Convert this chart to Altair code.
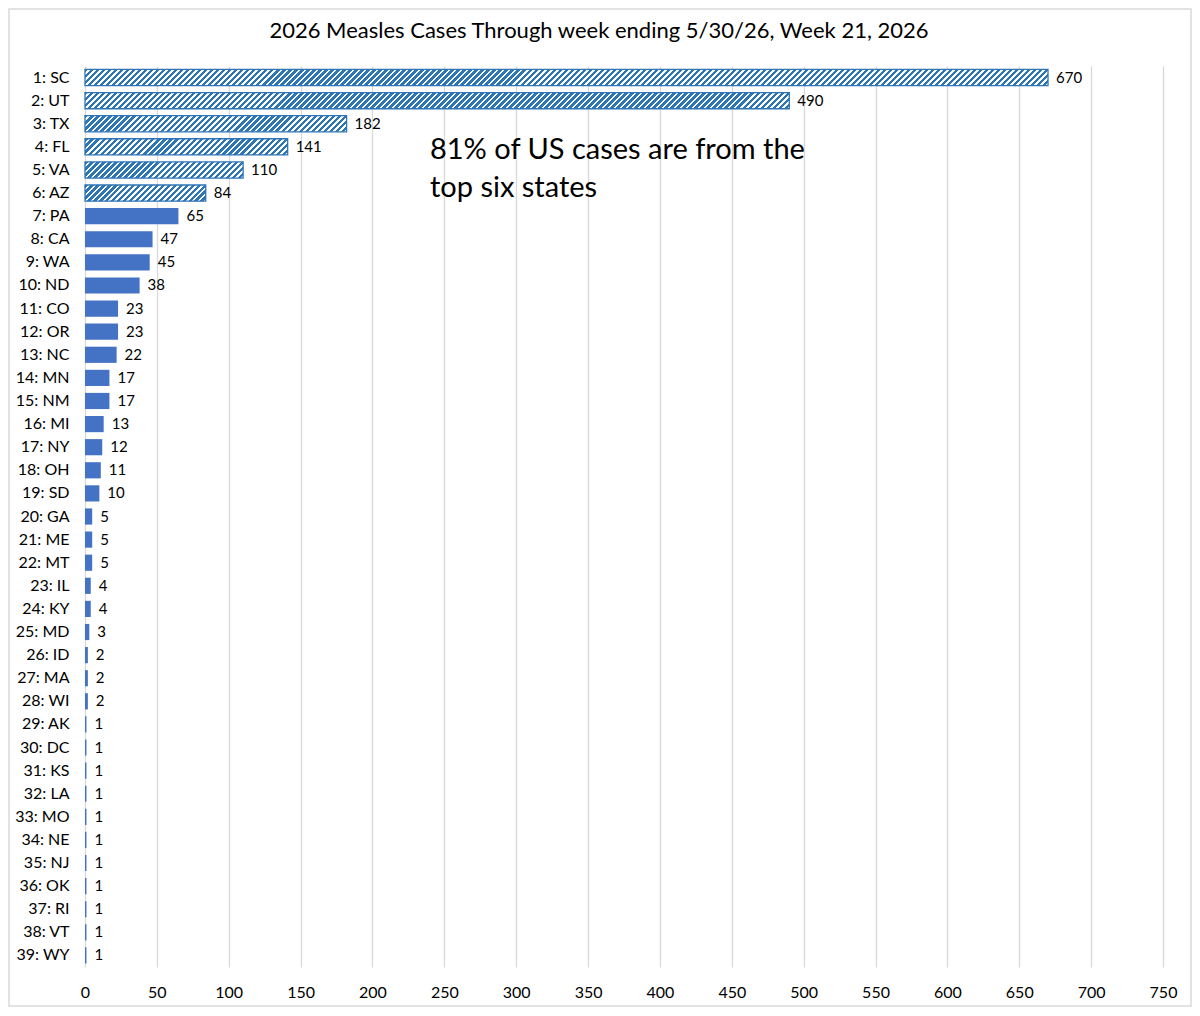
import altair as alt
import pandas as pd

# cases by state, already ranked
states = ["SC", "UT", "TX", "FL", "VA", "AZ", "PA", "CA", "WA", "ND",
          "CO", "OR", "NC", "MN", "NM", "MI", "NY", "OH", "SD", "GA",
          "ME", "MT", "IL", "KY", "MD", "ID", "MA", "WI", "AK", "DC",
          "KS", "LA", "MO", "NE", "NJ", "OK", "RI", "VT", "WY"]
cases = [670, 490, 182, 141, 110, 84, 65, 47, 45, 38,
         23, 23, 22, 17, 17, 13, 12, 11, 10, 5,
         5, 5, 4, 4, 3, 2, 2, 2, 1, 1,
         1, 1, 1, 1, 1, 1, 1, 1, 1]
x_ticks = list(range(0, 751, 50))
title = "2026 Measles Cases Through week ending 5/30/26, Week 21, 2026"
note = ["81% of US cases are from the", "top six states"]
n_hatched = 6

labels = [f"{i + 1}: {s}" for i, s in enumerate(states)]
df = pd.DataFrame({"label": labels, "cases": cases, "rank": range(1, len(states) + 1)})

W, H = 1078, 901
PX = W / 750                 # pixels per case
BAR_H = H / 39 * 0.7         # band width
PERIOD = 6                   # hatch period, px
SOLID = "#4472C4"
HATCH = "#2E75B6"
FONT = "Lato"


def hatch(value):
    # diagonal stripes made from a hard-stop gradient in bbox units
    w = value * PX
    h = BAR_H
    s = (1 / h + 1 / w) / (1 / h ** 2 + 1 / w ** 2)
    n = max(1, round((w + h) / PERIOD))
    stops = []
    for k in range(n):
        a, b, c = k / n, (k + 0.55) / n, (k + 1) / n
        stops += [alt.GradientStop(offset=a, color=HATCH),
                  alt.GradientStop(offset=b, color=HATCH),
                  alt.GradientStop(offset=b, color="white"),
                  alt.GradientStop(offset=c, color="white")]
    return alt.LinearGradient(gradient="linear", stops=stops,
                              x1=0, y1=0, x2=s / h, y2=s / w)


x_enc = alt.X("cases:Q",
              scale=alt.Scale(domain=[0, 750], nice=False),
              axis=alt.Axis(title=None, values=x_ticks, grid=True, gridColor="#d9d9d9",
                            gridWidth=1.3, ticks=False, domain=False, labelFont=FONT,
                            labelFontSize=16, labelColor="black", labelPadding=17,
                            labelFlush=False))
y_enc = alt.Y("label:N", sort=labels,
              scale=alt.Scale(domain=labels, paddingInner=0.3, paddingOuter=0.15),
              axis=alt.Axis(title=None, ticks=False, domain=False, labelFont=FONT,
                            labelFontSize=16, labelColor="black", labelPadding=16))

base = alt.Chart(df).encode(x=x_enc, y=y_enc)

solid = base.mark_bar(color=SOLID).transform_filter(f"datum.rank > {n_hatched}")

hatched = [
    base.mark_bar(fill=hatch(cases[i]), stroke=HATCH, strokeWidth=1.3)
        .transform_filter(f"datum.rank == {i + 1}")
    for i in range(n_hatched)
]

values = base.mark_text(align="left", baseline="middle", dx=8, font=FONT,
                        fontSize=15, color="black").encode(text="cases:Q")

dummy = pd.DataFrame({"a": [0]})
annotation = alt.Chart(dummy).mark_text(
    text=note, align="left", baseline="middle", font=FONT, fontSize=29,
    lineHeight=38, color="black", dy=-20
).encode(x=alt.datum(240), y=alt.datum(labels[4]))

frame = alt.Chart(dummy).mark_rect(fill="transparent", stroke="#d9d9d9", strokeWidth=1.5).encode(
    x=alt.value(-76), x2=alt.value(1106), y=alt.value(-57), y2=alt.value(940)
)

chart = alt.layer(frame, solid, *hatched, values, annotation).properties(
    width=W, height=H,
    title=alt.Title(title, font=FONT, fontSize=22, fontWeight="normal", color="black",
                    anchor="middle", frame="group", dx=-25, offset=-35),
    padding={"left": 77, "top": 58, "right": 29, "bottom": 40},
    autosize=alt.AutoSizeParams(type="none"),
).configure_view(strokeWidth=0)

chart.save("out.html", embed_options={"renderer": "svg", "actions": False})
